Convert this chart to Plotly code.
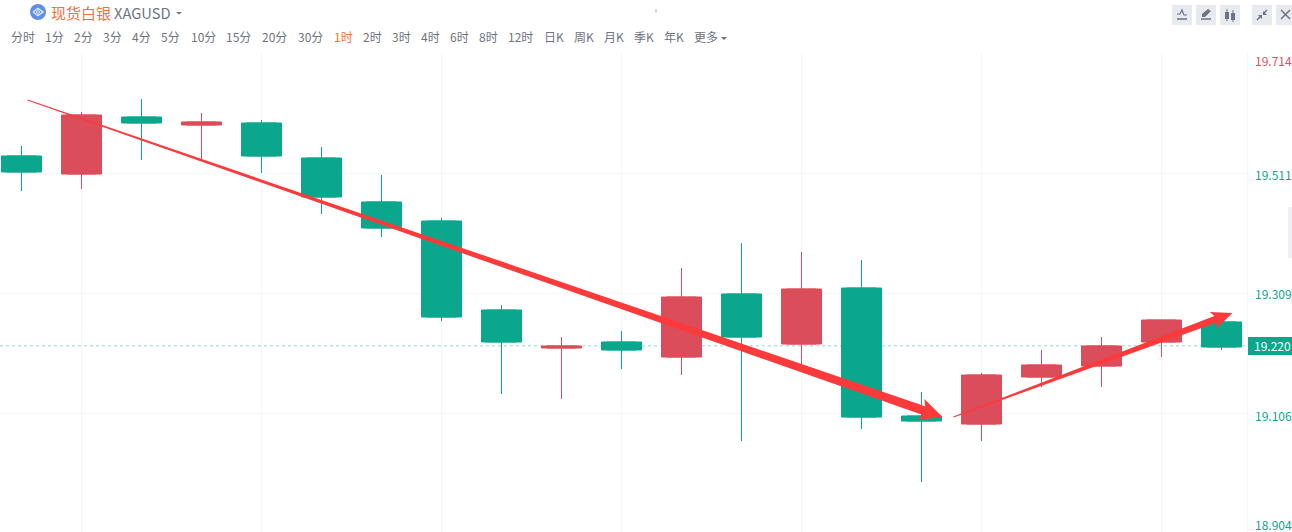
import plotly.graph_objects as go

# ---- data ----
candle_x = list(range(21))
opens  = [19.5402,19.5098,19.6060,19.5925,19.5959,19.5368,19.4626,19.4305,19.2803,19.2162,19.2263,19.2010,19.3073,19.2229,19.3174,19.1014,19.0879,19.1672,19.1858,19.2263,19.2601]
closes = [19.5132,19.6094,19.5959,19.5976,19.5402,19.4710,19.4187,19.2685,19.2263,19.2196,19.2128,19.3022,19.2347,19.3157,19.0997,19.0930,19.1706,19.1875,19.2196,19.2634,19.2179]
highs  = [19.5571,19.6144,19.6364,19.6128,19.6009,19.5554,19.5081,19.4356,19.2887,19.2347,19.2449,19.3512,19.3934,19.3782,19.3647,19.1419,19.1740,19.2128,19.2347,19.2634,19.2601]
lows   = [19.4811,19.4845,19.5334,19.5334,19.5115,19.4423,19.4035,19.2617,19.1386,19.1301,19.1807,19.1706,19.0592,19.1892,19.0795,18.9901,19.0592,19.1504,19.1504,19.2010,19.2128]

grid_x = [1, 4, 7, 10, 13, 16, 19]
grid_y = [19.714, 19.5115, 19.309, 19.1065]
last_price = 19.22
y_labels = ["19.714", "19.511", "19.309", "19.106", "18.904"]
y_label_vals = [19.714, 19.5115, 19.309, 19.1065, 18.9057]
y_label_shift = [-7, -1, 0, -2, 8]
y_label_colors = ["#dc4f5d", "#0aa78d", "#0aa78d", "#0aa78d", "#0aa78d"]

arrow1_x, arrow1_y = [0.1, 15.35], [19.6347, 19.0997]
arrow2_x, arrow2_y = [15.533, 20.183], [19.0997, 19.2752]

periods = ["分时","1分","2分","3分","4分","5分","10分","15分","20分","30分","1时","2时","3时","4时","6时","8时","12时","日K","周K","月K","季K","年K","更多"]
period_px = [23,54,83,112,141,170,203,238,274,310,343,372,401,430,459,488,520,554,584,614,644,674,706]

# ---- layout constants ----
W, H = 1292, 532
L, R, T, B = 0, 45, 53, 0
PW, PH = W - L - R, H - T - B
X_RANGE = [-21.5 / 60, (1247 - 21.5) / 60]
Y_RANGE = [18.9057, 19.714]
FONT = "Noto Sans CJK SC, Noto Sans, sans-serif"
GREEN, RED, GRID, GRAY = "#0aa78d", "#db4d5a", "#f5f6f8", "#6f7382"
ARROW = "#fb3a3c"

def px(x): return x / PW
def py(y): return (H - y) / PH

def arrow_polygon(xs, ys, w0, w1, head_len, head_half, barb):
    sx = PW / (X_RANGE[1] - X_RANGE[0])
    sy = PH / (Y_RANGE[1] - Y_RANGE[0])
    dx, dy = (xs[1] - xs[0]) * sx, (ys[1] - ys[0]) * sy
    n = (dx * dx + dy * dy) ** 0.5
    ux, uy = dx / n, dy / n
    nx, ny = -uy, ux
    def P(a, b):
        return xs[0] + (a * ux + b * nx) / sx, ys[0] + (a * uy + b * ny) / sy
    pts = [P(0, w0 / 2), P(n - head_len, w1 / 2), P(n - head_len - barb, head_half), P(n, 0),
           P(n - head_len - barb, -head_half), P(n - head_len, -w1 / 2), P(0, -w0 / 2), P(0, w0 / 2)]
    return [p[0] for p in pts], [p[1] for p in pts]

fig = go.Figure()
# bodies at full width (candlestick boxes cannot be widened this far)
body_colors = [RED if c >= o else GREEN for o, c in zip(opens, closes)]
fig.add_trace(go.Bar(
    x=candle_x, y=[abs(c - o) for o, c in zip(opens, closes)], base=[min(o, c) for o, c in zip(opens, closes)],
    width=40 / 60, marker=dict(color=body_colors, line=dict(width=1, color=body_colors)),
    hoverinfo="skip", showlegend=False))
fig.add_trace(go.Candlestick(
    x=candle_x, open=opens, high=highs, low=lows, close=closes,
    increasing=dict(line=dict(color=RED, width=1), fillcolor=RED),
    decreasing=dict(line=dict(color=GREEN, width=1), fillcolor=GREEN),
    whiskerwidth=0, hoverinfo="skip", showlegend=False))

for xs, ys, w1, hl, hh, barb in [(arrow1_x, arrow1_y, 9, 20, 11, 3), (arrow2_x, arrow2_y, 7, 18, 9, 3)]:
    ax, ay = arrow_polygon(xs, ys, 1, w1, hl, hh, barb)
    fig.add_trace(go.Scatter(x=ax, y=ay, mode="lines", fill="toself", fillcolor=ARROW,
                             line=dict(width=0, color=ARROW), hoverinfo="skip", showlegend=False))

ann = []
def text(t, x, y, size=12, color=GRAY, anchor="center"):
    ann.append(dict(text=t, x=px(x), y=py(y), xref="paper", yref="paper", showarrow=False,
                    xanchor=anchor, yanchor="middle", font=dict(family=FONT, size=size, color=color),
                    borderpad=0, borderwidth=0))

text("现货白银", 51, 12, 15, "#f4703b", "left")
text("XAGUSD", 114, 12, 14.7, GRAY, "left")
for t, x in zip(periods, period_px):
    text(t, x, 36, 12, "#f4703b" if t == "1时" else GRAY)

for lab, v, s, c in zip(y_labels, y_label_vals, y_label_shift, y_label_colors):
    ann.append(dict(text=lab, x=px(1252.5), y=v, xref="paper", yref="y", yshift=s, showarrow=False,
                    xanchor="left", yanchor="middle", font=dict(family=FONT, size=12, color=c)))
ann.append(dict(text="19.220", x=px(1252), y=last_price, xref="paper", yref="y", showarrow=False,
                xanchor="left", yanchor="middle", font=dict(family=FONT, size=12, color="white")))

shapes = []
def rect(x0, y0, x1, y1, color, **kw):
    shapes.append(dict(type="rect", xref="paper", yref="paper", x0=px(x0), x1=px(x1), y0=py(y0), y1=py(y1),
                       fillcolor=color, line=dict(width=0), **kw))
def seg(pts, color="#6d7284", width=1.5):
    path = "M " + " L ".join(f"{px(a):.5f},{py(b):.5f}" for a, b in pts)
    shapes.append(dict(type="path", xref="paper", yref="paper", path=path, line=dict(color=color, width=width)))
def tri(pts, color):
    path = "M " + " L ".join(f"{px(a):.5f},{py(b):.5f}" for a, b in pts) + " Z"
    shapes.append(dict(type="path", xref="paper", yref="paper", path=path, fillcolor=color, line=dict(width=0)))

# dotted last-price line and price tag
shapes.append(dict(type="line", xref="paper", yref="y", x0=0, x1=1, y0=last_price, y1=last_price, layer="below",
                   line=dict(color="#b3e8dd", width=1.5, dash="3px,3px")))
rect(1248, 337, 1292, 355, GREEN)
# logo
shapes.append(dict(type="circle", xref="paper", yref="paper", x0=px(30), x1=px(46), y0=py(20), y1=py(4),
                   fillcolor="#5f8fe3", line=dict(width=0)))
seg([(33, 12), (38, 8.5), (43, 12), (38, 15.5), (33, 12)], "#dfe9fb", 1.5)
seg([(36, 12), (38, 10.5), (40, 12), (38, 13.5), (36, 12)], "#dfe9fb", 1)
# carets
tri([(176, 12), (182, 12), (179, 14.5)], GRAY)
tri([(721, 37), (727, 37), (724, 40)], GRAY)
# stray tick
seg([(656, 9), (656, 13)], "#b5b8c0", 1)
# toolbar buttons
for x0 in (1172, 1196, 1220, 1252, 1276):
    shapes.append(dict(type="path", xref="paper", yref="paper", fillcolor="#e8eaf0", line=dict(width=0),
        path="M {a:.5f},{t:.5f} L {b:.5f},{t:.5f} L {b:.5f},{u:.5f} L {a:.5f},{u:.5f} Z".format(
            a=px(x0), b=px(x0 + 20), t=py(5), u=py(25))))
seg([(1177, 19), (1187, 19)])
seg([(1177, 14), (1180, 14), (1182, 10), (1184, 15), (1187, 15)], width=1.2)
seg([(1201, 19), (1211, 19)])
tri([(1202, 17), (1202, 14), (1208, 9), (1211, 11), (1205, 17)], "#6d7284")
for x, y0, y1, a, b in [(1227, 12, 19, 9, 21), (1233, 13, 20, 10, 22)]:
    rect(x - 2, y0, x + 2, y1, "#6d7284")
    seg([(x, a), (x, b)], width=1)
seg([(1257, 20), (1261, 16)]); seg([(1263, 14), (1267, 10)])
tri([(1258, 15), (1262, 15), (1262, 19)], "#6d7284")
tri([(1263, 11), (1263, 15), (1267, 15)], "#6d7284")
seg([(1281, 10), (1290, 19)]); seg([(1290, 10), (1281, 19)])
# right-edge scroll handle
rect(1288, 207, 1292, 258, "#eef0f3")

fig.update_layout(
    width=W, height=H, margin=dict(l=L, r=R, t=T, b=B, pad=0),
    paper_bgcolor="white", plot_bgcolor="white", hovermode=False,
    annotations=ann, shapes=shapes, showlegend=False,
    xaxis=dict(range=X_RANGE, tickvals=grid_x, showticklabels=False, ticks="", showgrid=True, gridcolor=GRID,
               gridwidth=1, zeroline=False, rangeslider=dict(visible=False), showline=False),
    yaxis=dict(range=Y_RANGE, side="right", tickvals=grid_y, showticklabels=False, ticks="", showgrid=True,
               gridcolor=GRID, gridwidth=1, zeroline=False, showline=True, linecolor=GRID, linewidth=1),
)
fig.write_html("out.html", config=dict(displayModeBar=False),
               post_script="document.body.style.margin='0';document.body.style.overflow='hidden';")
